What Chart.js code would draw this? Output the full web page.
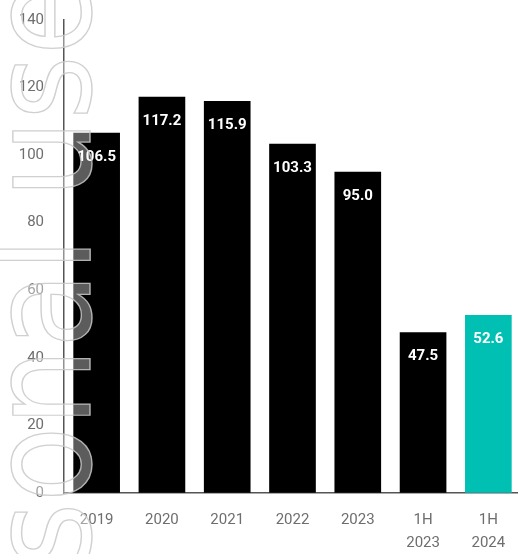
<!DOCTYPE html>
<html>
<head>
<meta charset="utf-8">
<script src="https://cdn.jsdelivr.net/npm/chart.js@4.4.1/dist/chart.umd.min.js"></script>
<style>
  html, body { margin: 0; padding: 0; background: #fff; overflow: hidden; }
  #wrap { width: 522px; height: 554px; }
</style>
</head>
<body>
<div id="wrap"><canvas id="grafico" width="522" height="554"></canvas></div>
<script>
// valores por período
const periodos = ['2019', '2020', '2021', '2022', '2023', ['1H', '2023'], ['1H', '2024']];
const valores = [106.5, 117.2, 115.9, 103.3, 95.0, 47.5, 52.6];
const coresBarras = ['#000000', '#000000', '#000000', '#000000', '#000000', '#000000', '#00c0b4'];
const ticksY = [0, 20, 40, 60, 80, 100, 120, 140];

const corTexto = '#6e6e6e', corEixo = '#555555', transparente = 'rgba(0,0,0,0)';

// rótulos brancos dentro do topo de cada barra
const rotulosValor = {
    id: 'rotulosValor',
    afterDatasetsDraw(chart) {
        const ctx = chart.ctx;
        const meta = chart.getDatasetMeta(0);
        ctx.save();
        ctx.font = 'bold 15px Roboto';
        ctx.fillStyle = '#ffffff';
        ctx.textAlign = 'center';
        ctx.textBaseline = 'middle';
        meta.data.forEach((barra, i) => {
            ctx.fillText(valores[i].toFixed(1), barra.x, barra.y + 24);
        });
        ctx.restore();
    }
};

// marca d'água vertical em contorno
const marcaDagua = {
    id: 'marcaDagua',
    afterDraw(chart) {
        const ctx = chart.ctx;
        ctx.save();
        ctx.translate(90, -21);
        ctx.rotate(-Math.PI / 2);
        ctx.scale(0.885, 1);
        ctx.font = '140px "DejaVu Sans"';
        ctx.textAlign = 'right';
        ctx.textBaseline = 'alphabetic';
        ctx.fillStyle = 'rgba(255,255,255,0.36)';
        ctx.fillText('Personal use', 0, 0);
        ctx.lineWidth = 1.4;
        ctx.strokeStyle = 'rgba(200,200,200,0.85)';
        ctx.strokeText('Personal use', 0, 0);
        ctx.restore();
    }
};

new Chart('grafico', {
    type: 'bar',
    data: {
        labels: periodos,
        datasets: [{
            data: valores,
            backgroundColor: coresBarras,
            borderWidth: 0,
            barThickness: 46
        }]
    },
    options: {
        responsive: false,
        animation: false,
        layout: { padding: { top: 20, right: 1, bottom: 0, left: 0 } },
        plugins: { legend: { display: false }, tooltip: { enabled: false } },
        scales: {
            y: {
                min: 0,
                max: 140,
                afterFit: (s) => { s.width = 64; },
                afterBuildTicks: (s) => { s.ticks = ticksY.map(v => ({ value: v })); },
                // marcas de tick invisíveis só para afastar os rótulos do eixo
                grid: { color: transparente, drawOnChartArea: false, drawTicks: true, tickLength: 17 },
                border: { display: true, color: corEixo, width: 1.5 },
                ticks: { color: corTexto, padding: 3, font: { family: 'Roboto', size: 15 } }
            },
            x: {
                grid: { color: transparente, drawOnChartArea: false, drawTicks: true, tickLength: 16 },
                border: { display: true, color: corEixo, width: 1.5 },
                ticks: { color: corTexto, padding: 0, maxRotation: 0, font: { family: 'Roboto', size: 15, lineHeight: 1.5 } }
            }
        }
    },
    plugins: [rotulosValor, marcaDagua]
});
</script>
</body>
</html>
